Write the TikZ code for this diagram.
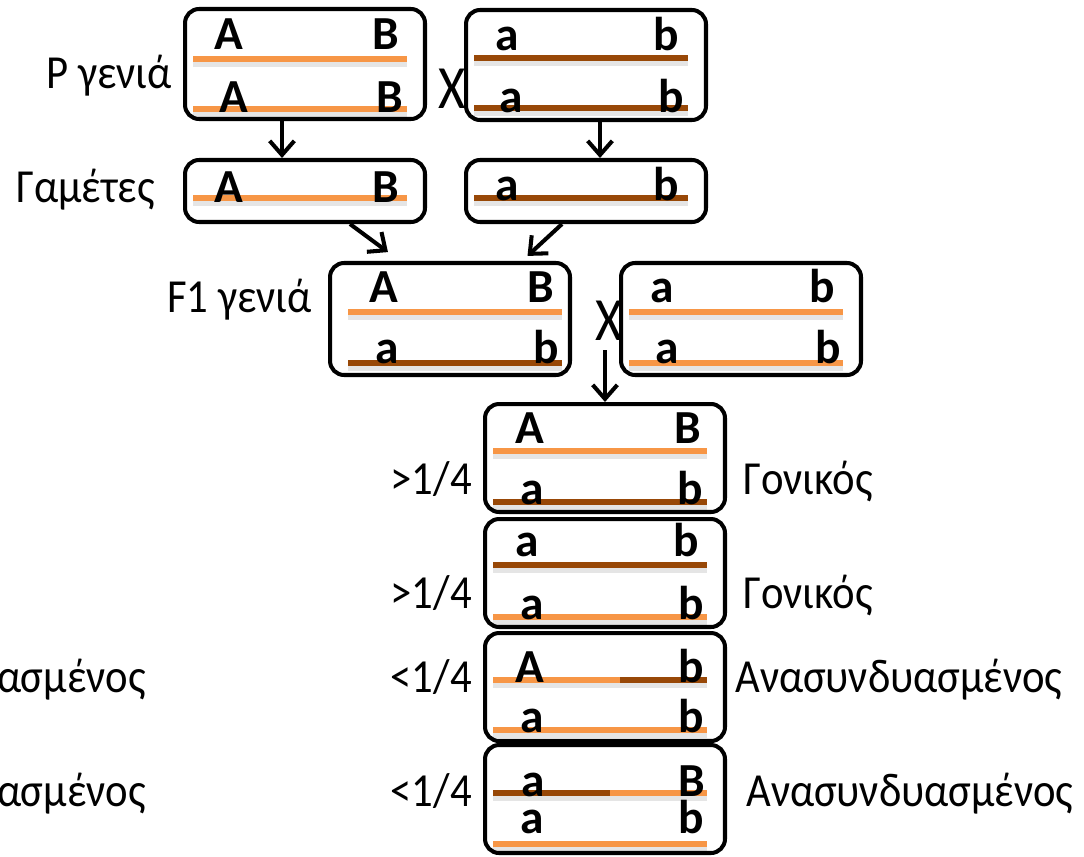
\documentclass[tikz,border=0pt]{standalone}
\usepackage{fontspec}
\setmainfont{Carlito}
\usetikzlibrary{arrows.meta, calc}

\definecolor{chrA}{HTML}{F79646}
\definecolor{chra}{HTML}{984807}

\tikzset{
  box/.style={draw, line width=2.3pt, rounded corners=8pt, minimum width=4.8cm, inner sep=0},
  gene/.style={font=\fontsize{27}{27}\selectfont\bfseries, inner sep=0, anchor=base},
  lbl/.style={font=\fontsize{27}{27}\selectfont, inner sep=0, xscale=0.9, transform shape},
  cross/.style={font=\fontsize{35}{35}\selectfont, inner sep=0, anchor=base, xscale=0.85, transform shape},
  chr/.style={line width=3.4pt},
  chrshadow/.style={line width=4pt, black, opacity=0.1},
  arr/.style={line width=2.3pt, -{Straight Barb[length=8pt,width=14pt]}}
}

% chromosome: x1, x2, y, colour
\newcommand{\chrom}[4]{%
  \draw[chrshadow] (#1,#3+4) -- (#2,#3+4);
  \draw[chr,#4] (#1,#3) -- (#2,#3);}
% two alleles on a chromosome: name, x left, x right, baseline, left, right
\newcommand{\genepair}[6]{%
  \node[gene] (#1l) at (#2,#4) {#5};
  \node[gene] (#1r) at (#3,#4) {#6};}

\begin{document}
\begin{tikzpicture}[x=0.02cm, y=-0.02cm]
\useasboundingbox (0,0) rectangle (1084,856);
\clip (0,0) rectangle (1084,856);

% boxes
\node[box, minimum height=2.2cm] (Pl) at (305,64) {};
\node[box, minimum height=2.2cm] (Pr) at (586,65) {};
\node[box, minimum height=1.24cm] (Gl) at (305,191) {};
\node[box, minimum height=1.24cm] (Gr) at (586,191) {};
\node[box, minimum height=2.24cm] (F1l) at (450,319) {};
\node[box, minimum height=2.24cm] (F1r) at (741,319) {};
\node[box, minimum height=2.16cm] (O1) at (605,458) {};
\node[box, minimum height=2.16cm] (O2) at (605,573) {};
\node[box, minimum height=2.16cm] (O3) at (605,687) {};
\node[box, minimum height=2.16cm] (O4) at (605,799) {};

% chromosomes
\chrom{193}{407}{59}{chrA}
\chrom{193}{407}{109}{chrA}
\chrom{474}{688}{58}{chra}
\chrom{474}{688}{108}{chra}
\chrom{193}{407}{198}{chrA}
\chrom{474}{688}{198}{chra}
\chrom{348}{562}{312}{chrA}
\chrom{348}{562}{363}{chra}
\chrom{629}{843}{312}{chrA}
\chrom{629}{843}{363}{chrA}
\chrom{493}{707}{451}{chrA}
\chrom{493}{707}{502}{chra}
\chrom{493}{707}{565}{chra}
\chrom{493}{707}{617}{chrA}
\chrom{493}{620}{680}{chrA}
\chrom{620}{707}{680}{chra}
\chrom{493}{707}{730}{chrA}
\chrom{493}{610}{793}{chra}
\chrom{610}{707}{793}{chrA}
\chrom{493}{707}{844}{chrA}

% alleles
\genepair{Pl1}{229}{386}{49}{A}{B}
\genepair{Pl2}{234}{390}{112}{A}{B}
\genepair{Pr1}{507}{666}{50}{a}{b}
\genepair{Pr2}{511}{671}{112}{a}{b}
\genepair{Gl1}{229}{386}{202}{A}{B}
\genepair{Gr1}{507}{666}{200}{a}{b}
\genepair{Fl1}{384}{541}{302}{A}{B}
\genepair{Fl2}{387}{546}{363}{a}{b}
\genepair{Fr1}{662}{822}{302}{a}{b}
\genepair{Fr2}{667}{828}{363}{a}{b}
\genepair{Oa1}{530}{688}{443}{A}{B}
\genepair{Oa2}{532}{690}{504}{a}{b}
\genepair{Ob1}{527}{686}{556}{a}{b}
\genepair{Ob2}{532}{691}{619}{a}{b}
\genepair{Oc1}{530}{691}{682}{A}{b}
\genepair{Oc2}{532}{691}{732}{a}{b}
\genepair{Od1}{533}{692}{796}{a}{B}
\genepair{Od2}{532}{691}{833}{a}{b}

% crosses
\node[cross] (xP) at (452,108) {X};
\node[cross] (xF) at (609,340) {X};

% generation labels
\node[lbl, anchor=base east] (labP) at (172,88) {P γενιά};
\node[lbl, anchor=base east] (labG) at (155,202) {Γαμέτες};
\node[lbl, anchor=base east] (labF) at (312,312) {F1 γενιά};

% ratios and types
\node[lbl, anchor=base east] (r1) at (472,494) {>1/4};
\node[lbl, anchor=base east] (r2) at (472,608) {>1/4};
\node[lbl, anchor=base east] (r3) at (472,692) {<1/4};
\node[lbl, anchor=base east] (r4) at (472,806) {<1/4};
\node[lbl, anchor=base west] (t1) at (743,494) {Γονικός};
\node[lbl, anchor=base west] (t2) at (743,608) {Γονικός};
\node[lbl, anchor=base west] (t3) at (735,692) {Ανασυνδυασμένος};
\node[lbl, anchor=base west] (t4) at (746,806) {Ανασυνδυασμένος};
\node[lbl, anchor=base east] (t3b) at (146,692) {Ανασυνδυασμένος};
\node[lbl, anchor=base east] (t4b) at (146,806) {Ανασυνδυασμένος};

% arrows
\draw[arr] ([xshift=-0.46cm]Pl.south) -- ([xshift=-0.46cm]Gl.north);
\draw[arr] ([xshift=0.28cm]Pr.south) -- ([xshift=0.28cm]Gr.north);
\draw[arr, shorten >=0.3cm] ([xshift=0.9cm]Gl.south) -- ([xshift=-1cm]F1l.north);
\draw[arr, shorten >=0.15cm] ([xshift=-0.48cm]Gr.south) -- ([xshift=1.44cm]F1l.north);
\draw[arr, shorten <=0.2cm] (xF.south -| O1.north) -- (O1.north);
\end{tikzpicture}
\end{document}
